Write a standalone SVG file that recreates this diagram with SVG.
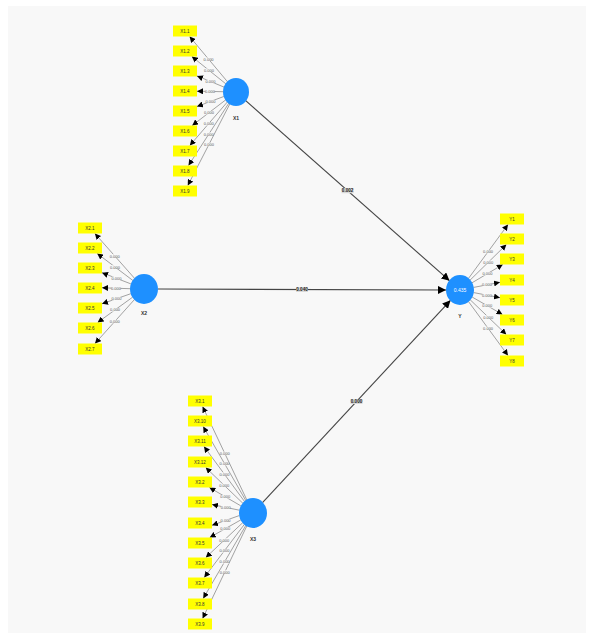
<svg xmlns="http://www.w3.org/2000/svg" width="594" height="639" viewBox="0 0 594 639">
<defs>
<marker id="ah" viewBox="0 0 10 10" refX="10" refY="5" markerWidth="6" markerHeight="6" markerUnits="userSpaceOnUse" orient="auto">
<path d="M0,0 L10,5 L0,10 z" fill="#000"/>
</marker>
<marker id="ahb" viewBox="0 0 10 10" refX="10" refY="5" markerWidth="8" markerHeight="8" markerUnits="userSpaceOnUse" orient="auto">
<path d="M0,0 L10,5 L0,10 z" fill="#000"/>
</marker>
<style>
.bg{fill:#f8f8f8}
.lat{fill:#1e90ff}
.ind{fill:#ffff00}
.it{font-family:"Liberation Sans",Arial,sans-serif;font-size:4.5px;fill:#333;text-anchor:middle;dominant-baseline:central}
.lt{font-family:"Liberation Sans",Arial,sans-serif;font-size:5px;font-weight:bold;fill:#333;text-anchor:middle;dominant-baseline:central}
.vt{font-family:"Liberation Sans",Arial,sans-serif;font-size:5px;fill:#fff;text-anchor:middle;dominant-baseline:central}
.ld line{stroke:#666;stroke-width:0.6;marker-end:url(#ah)}
.st line{stroke:#444;stroke-width:1.1;marker-end:url(#ahb)}
.lb rect{fill:#fafafa}
.lb text{font-family:"Liberation Sans",Arial,sans-serif;font-size:4px;fill:#555;text-anchor:middle;dominant-baseline:central}
.pb rect{fill:#d8d8d8}
.pb text{font-family:"Liberation Sans",Arial,sans-serif;font-size:4.6px;font-weight:bold;fill:#222;text-anchor:middle;dominant-baseline:central}
</style>
</defs>
<rect width="594" height="639" fill="#fff"/>
<rect class="bg" x="8" y="6" width="578" height="627"/>

<g id="connectors">
<g class="st">
<line x1="245.7" y1="100.6" x2="449.5" y2="280.7"/>
<line x1="158" y1="289" x2="446" y2="290"/>
<line x1="262.5" y1="502.7" x2="450.5" y2="300.3"/>
</g>
<g class="ld">
<line x1="227.7" y1="82" x2="189.6" y2="36.5"/>
<line x1="225.9" y1="83.9" x2="191.8" y2="56.5"/>
<line x1="224" y1="87.1" x2="197" y2="75.9"/>
<line x1="223" y1="91.7" x2="197" y2="91.2"/>
<line x1="223.8" y1="96.5" x2="197" y2="106.5"/>
<line x1="225.7" y1="99.9" x2="192.2" y2="125.5"/>
<line x1="227.5" y1="101.8" x2="189.8" y2="145.5"/>
<line x1="229" y1="102.9" x2="188.5" y2="165.5"/>
<line x1="230" y1="103.6" x2="187.8" y2="185.5"/>

<line x1="134.7" y1="278.5" x2="94.9" y2="233.5"/>
<line x1="132.9" y1="280.5" x2="97.2" y2="253.5"/>
<line x1="130.9" y1="283.9" x2="102" y2="272.7"/>
<line x1="130" y1="288.7" x2="102" y2="287.8"/>
<line x1="130.8" y1="293.7" x2="102" y2="303.8"/>
<line x1="132.6" y1="297.2" x2="97.6" y2="322.5"/>
<line x1="134.6" y1="299.4" x2="95" y2="343.5"/>

<line x1="247" y1="500.3" x2="202.6" y2="406.5"/>
<line x1="246" y1="500.9" x2="203.2" y2="426.5"/>
<line x1="244.7" y1="501.7" x2="204" y2="446.5"/>
<line x1="242.9" y1="503.3" x2="205.7" y2="467.5"/>
<line x1="240.9" y1="505.9" x2="209.4" y2="487.5"/>
<line x1="239.3" y1="510.2" x2="212" y2="504.5"/>
<line x1="239.2" y1="515.6" x2="212" y2="525.3"/>
<line x1="240.8" y1="519.9" x2="209.7" y2="537.5"/>
<line x1="242.8" y1="522.6" x2="205.8" y2="557.5"/>
<line x1="244.5" y1="524.2" x2="204.2" y2="577.5"/>
<line x1="246" y1="525.1" x2="203.2" y2="598.5"/>
<line x1="247" y1="525.6" x2="202.6" y2="618.5"/>

<line x1="468.3" y1="278.7" x2="508" y2="224.5"/>
<line x1="470" y1="280.2" x2="506.4" y2="244.5"/>
<line x1="472" y1="282.8" x2="502.8" y2="264.5"/>
<line x1="473.7" y1="287.4" x2="500" y2="282.3"/>
<line x1="473.7" y1="292.6" x2="500" y2="297.7"/>
<line x1="472.1" y1="297" x2="502.5" y2="314.5"/>
<line x1="470.1" y1="299.7" x2="506.3" y2="334.5"/>
<line x1="468.3" y1="301.3" x2="508" y2="355.5"/>
</g>
<g class="pb">
<rect x="341.6" y="188.2" width="12" height="5"/><text x="347.6" y="190.7">0.002</text>
<rect x="296" y="287" width="12" height="5"/><text x="302" y="289.5">0.040</text>
<rect x="350.5" y="399" width="12" height="5"/><text x="356.5" y="401.5">0.000</text>
</g>
<g class="lb">
<rect x="204.1" y="57.6" width="9" height="3.4"/><text x="208.6" y="59.3">0.000</text>
<rect x="204.4" y="68.5" width="9" height="3.4"/><text x="208.9" y="70.2">0.000</text>
<rect x="206" y="79.8" width="9" height="3.4"/><text x="210.5" y="81.5">0.000</text>
<rect x="205.5" y="89.8" width="9" height="3.4"/><text x="210" y="91.5">0.000</text>
<rect x="205.9" y="99.8" width="9" height="3.4"/><text x="210.4" y="101.5">0.000</text>
<rect x="204.5" y="111" width="9" height="3.4"/><text x="209" y="112.7">0.000</text>
<rect x="204.2" y="122" width="9" height="3.4"/><text x="208.7" y="123.7">0.000</text>
<rect x="204.2" y="132.5" width="9" height="3.4"/><text x="208.7" y="134.2">0.000</text>
<rect x="204.4" y="142.8" width="9" height="3.4"/><text x="208.9" y="144.5">0.000</text>

<rect x="110.3" y="254.3" width="9" height="3.4"/><text x="114.8" y="256">0.000</text>
<rect x="110.5" y="265.3" width="9" height="3.4"/><text x="115" y="267">0.000</text>
<rect x="112" y="276.6" width="9" height="3.4"/><text x="116.5" y="278.3">0.000</text>
<rect x="111.5" y="286.6" width="9" height="3.4"/><text x="116" y="288.3">0.000</text>
<rect x="111.9" y="297" width="9" height="3.4"/><text x="116.4" y="298.7">0.000</text>
<rect x="110.6" y="308.1" width="9" height="3.4"/><text x="115.1" y="309.8">0.000</text>
<rect x="110.3" y="319.8" width="9" height="3.4"/><text x="114.8" y="321.5">0.000</text>

<rect x="220.3" y="451.7" width="9" height="3.4"/><text x="224.8" y="453.4">0.000</text>
<rect x="220.1" y="462" width="9" height="3.4"/><text x="224.6" y="463.7">0.000</text>
<rect x="219.9" y="472.4" width="9" height="3.4"/><text x="224.4" y="474.1">0.000</text>
<rect x="219.8" y="483.7" width="9" height="3.4"/><text x="224.3" y="485.4">0.000</text>
<rect x="220.7" y="495" width="9" height="3.4"/><text x="225.2" y="496.7">0.000</text>
<rect x="221.2" y="505.6" width="9" height="3.4"/><text x="225.7" y="507.3">0.000</text>
<rect x="221.1" y="518.8" width="9" height="3.4"/><text x="225.6" y="520.5">0.000</text>
<rect x="220.8" y="527" width="9" height="3.4"/><text x="225.3" y="528.7">0.000</text>
<rect x="219.8" y="538.3" width="9" height="3.4"/><text x="224.3" y="540">0.000</text>
<rect x="219.9" y="549.1" width="9" height="3.4"/><text x="224.4" y="550.8">0.000</text>
<rect x="220.1" y="560.1" width="9" height="3.4"/><text x="224.6" y="561.8">0.000</text>
<rect x="220.3" y="570.3" width="9" height="3.4"/><text x="224.8" y="572">0.000</text>

<rect x="483.6" y="249.9" width="9" height="3.4"/><text x="488.1" y="251.6">0.000</text>
<rect x="483.7" y="260.6" width="9" height="3.4"/><text x="488.2" y="262.3">0.000</text>
<rect x="482.9" y="272" width="9" height="3.4"/><text x="487.4" y="273.7">0.000</text>
<rect x="482.4" y="283.1" width="9" height="3.4"/><text x="486.9" y="284.8">0.000</text>
<rect x="482.4" y="293.5" width="9" height="3.4"/><text x="486.9" y="295.2">0.000</text>
<rect x="482.8" y="304.1" width="9" height="3.4"/><text x="487.3" y="305.8">0.000</text>
<rect x="483.7" y="315.4" width="9" height="3.4"/><text x="488.2" y="317.1">0.000</text>
<rect x="483.6" y="326.7" width="9" height="3.4"/><text x="488.1" y="328.4">0.000</text>
</g>
</g>

<g id="X1"><ellipse class="lat" cx="236" cy="92" rx="13" ry="14"/><text class="lt" x="236" y="118">X1</text></g>
<g id="X2"><ellipse class="lat" cx="144" cy="289" rx="14" ry="15"/><text class="lt" x="144" y="313">X2</text></g>
<g id="X3"><ellipse class="lat" cx="253" cy="513" rx="14" ry="15"/><text class="lt" x="253" y="539">X3</text></g>
<g id="Y"><ellipse class="lat" cx="460" cy="290" rx="14" ry="15"/><text class="vt" x="460" y="290">0.435</text><text class="lt" x="460" y="316">Y</text></g>

<g id="X1.1"><rect class="ind" x="173" y="25.5" width="24" height="11"/><text class="it" x="185" y="31">X1.1</text></g>
<g id="X1.2"><rect class="ind" x="173" y="45.5" width="24" height="11"/><text class="it" x="185" y="51">X1.2</text></g>
<g id="X1.3"><rect class="ind" x="173" y="65.5" width="24" height="11"/><text class="it" x="185" y="71">X1.3</text></g>
<g id="X1.4"><rect class="ind" x="173" y="85.5" width="24" height="11"/><text class="it" x="185" y="91">X1.4</text></g>
<g id="X1.5"><rect class="ind" x="173" y="105.5" width="24" height="11"/><text class="it" x="185" y="111">X1.5</text></g>
<g id="X1.6"><rect class="ind" x="173" y="125.5" width="24" height="11"/><text class="it" x="185" y="131">X1.6</text></g>
<g id="X1.7"><rect class="ind" x="173" y="145.5" width="24" height="11"/><text class="it" x="185" y="151">X1.7</text></g>
<g id="X1.8"><rect class="ind" x="173" y="165.5" width="24" height="11"/><text class="it" x="185" y="171">X1.8</text></g>
<g id="X1.9"><rect class="ind" x="173" y="185.5" width="24" height="11"/><text class="it" x="185" y="191">X1.9</text></g>

<g id="X2.1"><rect class="ind" x="78" y="222.5" width="24" height="11"/><text class="it" x="90" y="228">X2.1</text></g>
<g id="X2.2"><rect class="ind" x="78" y="242.5" width="24" height="11"/><text class="it" x="90" y="248">X2.2</text></g>
<g id="X2.3"><rect class="ind" x="78" y="262.5" width="24" height="11"/><text class="it" x="90" y="268">X2.3</text></g>
<g id="X2.4"><rect class="ind" x="78" y="282.5" width="24" height="11"/><text class="it" x="90" y="288">X2.4</text></g>
<g id="X2.5"><rect class="ind" x="78" y="302.5" width="24" height="11"/><text class="it" x="90" y="308">X2.5</text></g>
<g id="X2.6"><rect class="ind" x="78" y="322.5" width="24" height="11"/><text class="it" x="90" y="328">X2.6</text></g>
<g id="X2.7"><rect class="ind" x="78" y="343.5" width="24" height="11"/><text class="it" x="90" y="349">X2.7</text></g>

<g id="X3.1"><rect class="ind" x="188" y="395.5" width="24" height="11"/><text class="it" x="200" y="401">X3.1</text></g>
<g id="X3.10"><rect class="ind" x="188" y="415.5" width="24" height="11"/><text class="it" x="200" y="421">X3.10</text></g>
<g id="X3.11"><rect class="ind" x="188" y="435.5" width="24" height="11"/><text class="it" x="200" y="441">X3.11</text></g>
<g id="X3.12"><rect class="ind" x="188" y="456.5" width="24" height="11"/><text class="it" x="200" y="462">X3.12</text></g>
<g id="X3.2"><rect class="ind" x="188" y="476.5" width="24" height="11"/><text class="it" x="200" y="482">X3.2</text></g>
<g id="X3.3"><rect class="ind" x="188" y="496.5" width="24" height="11"/><text class="it" x="200" y="502">X3.3</text></g>
<g id="X3.4"><rect class="ind" x="188" y="517.5" width="24" height="11"/><text class="it" x="200" y="523">X3.4</text></g>
<g id="X3.5"><rect class="ind" x="188" y="537.5" width="24" height="11"/><text class="it" x="200" y="543">X3.5</text></g>
<g id="X3.6"><rect class="ind" x="188" y="557.5" width="24" height="11"/><text class="it" x="200" y="563">X3.6</text></g>
<g id="X3.7"><rect class="ind" x="188" y="577.5" width="24" height="11"/><text class="it" x="200" y="583">X3.7</text></g>
<g id="X3.8"><rect class="ind" x="188" y="598.5" width="24" height="11"/><text class="it" x="200" y="604">X3.8</text></g>
<g id="X3.9"><rect class="ind" x="188" y="618.5" width="24" height="11"/><text class="it" x="200" y="624">X3.9</text></g>

<g id="Y1"><rect class="ind" x="500" y="213.5" width="24" height="11"/><text class="it" x="512" y="219">Y1</text></g>
<g id="Y2"><rect class="ind" x="500" y="233.5" width="24" height="11"/><text class="it" x="512" y="239">Y2</text></g>
<g id="Y3"><rect class="ind" x="500" y="253.5" width="24" height="11"/><text class="it" x="512" y="259">Y3</text></g>
<g id="Y4"><rect class="ind" x="500" y="274.5" width="24" height="11"/><text class="it" x="512" y="280">Y4</text></g>
<g id="Y5"><rect class="ind" x="500" y="294.5" width="24" height="11"/><text class="it" x="512" y="300">Y5</text></g>
<g id="Y6"><rect class="ind" x="500" y="314.5" width="24" height="11"/><text class="it" x="512" y="320">Y6</text></g>
<g id="Y7"><rect class="ind" x="500" y="334.5" width="24" height="11"/><text class="it" x="512" y="340">Y7</text></g>
<g id="Y8"><rect class="ind" x="500" y="355.5" width="24" height="11"/><text class="it" x="512" y="361">Y8</text></g>
</svg>
